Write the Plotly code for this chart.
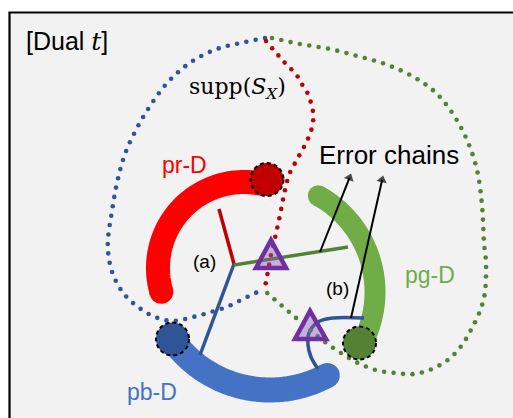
import numpy as np
import plotly.graph_objects as go

W, H = 513, 418

# ---- thick decoder arcs: centre, radius, angular span (degrees, y pointing up)
arc_labels = ["pr-D", "pb-D", "pg-D"]
arc_colors = ["#ff0000", "#4472c4", "#70ad47"]
arc_cx = [244, 270, 265]
arc_cy = [268, 270, 292]
arc_r = [86, 120, 110]
arc_a0 = [75, 215, 61]
arc_a1 = [196, 298.5, -28]
arc_width = [24, 25, 21]
arc_cap = ["end", "end", "start"]

# ---- dotted boundary loops (control points)
blue_loop_x = [265, 245, 217, 191, 169, 152, 137, 125, 117, 112, 108, 109, 114, 124,
               138, 155, 173, 193, 211, 229, 247, 264]
blue_loop_y = [38, 42, 49, 62, 81, 103, 128, 154, 183, 211, 239, 259, 277, 294,
               307, 317, 321, 317, 312, 306, 297, 289]
red_loop_x = [266, 272, 278, 285, 292, 298, 303, 308, 311, 313, 313, 311, 306, 300,
              294, 289, 285, 280, 275, 271, 268, 265]
red_loop_y = [41, 48, 55, 63, 70, 77, 86, 94, 103, 112, 122, 131, 143, 154,
              165, 175, 190, 215, 238, 255, 271, 287]
green_loop_x = [272, 300, 330, 357, 385, 412, 435, 453, 467, 477, 482, 484, 486, 485,
                480, 472, 462, 449, 432, 414, 395, 376, 358, 341, 325, 310, 295, 281, 266]
green_loop_y = [38, 44, 49, 56, 64, 76, 92, 114, 140, 170, 205, 243, 263, 292,
                311, 328, 345, 359, 369, 374, 373, 370, 363, 353, 342, 330, 317, 305, 292]
loop_colors = ["#2f5597", "#c00000", "#548235"]

# ---- thin spokes from the syndrome junction
spoke_colors = ["#c00000", "#2f5597", "#548235"]
spoke_x0 = [234, 234, 234]
spoke_y0 = [264, 264, 265]
spoke_x1 = [219, 200, 348]
spoke_y1 = [209, 355, 247]

# ---- small blue correction path near (b)
hook_x = [364, 333, 318, 309, 308, 311, 318]
hook_y = [318, 318, 322, 333, 345, 357, 369]

# ---- error chain arrows
arrow_tail_x = [320, 351]
arrow_tail_y = [252, 318]
arrow_head_x = [351, 383]
arrow_head_y = [174, 176]
arrow_head_len = 9

# ---- defect triangles
tri_x = [[271, 256, 286], [310, 295, 326]]
tri_y = [[240, 268, 268], [311, 339, 339]]

# ---- boundary nodes
node_x = [267, 172.5, 359.5]
node_y = [179.5, 339, 343]
node_r = 16.5
node_colors = ["#c00000", "#2f5597", "#548235"]

# ---- labels
label_text = ["pr-D", "pb-D", "pg-D", "(a)", "(b)"]
label_x = [184.5, 152, 430, 204, 337]
label_y = [165, 392, 275, 261, 288]
label_colors = ["#ff0000", "#4472c4", "#70ad47", "#000000", "#000000"]
label_size = [23, 23, 23, 19, 19]


def catmull_rom(px, py, steps=24):
    pts = np.column_stack([px, py]).astype(float)
    pts = np.vstack([2 * pts[0] - pts[1], pts, 2 * pts[-1] - pts[-2]])
    t = np.linspace(0, 1, steps, endpoint=False)[:, None]
    out = []
    for i in range(1, len(pts) - 2):
        p0, p1, p2, p3 = pts[i - 1], pts[i], pts[i + 1], pts[i + 2]
        out.append(0.5 * (2 * p1 + (-p0 + p2) * t
                          + (2 * p0 - 5 * p1 + 4 * p2 - p3) * t ** 2
                          + (-p0 + 3 * p1 - 3 * p2 + p3) * t ** 3))
    out.append(pts[-2][None, :])
    return np.vstack(out)


def even_dots(px, py, gap=9.5):
    c = catmull_rom(px, py)
    d = np.r_[0, np.cumsum(np.hypot(*np.diff(c, axis=0).T))]
    s = np.arange(0, d[-1] + 0.01, gap)
    return np.interp(s, d, c[:, 0]), np.interp(s, d, c[:, 1])


fig = go.Figure()

# thick arcs with a rounded free end
for i in range(3):
    a = np.radians(np.linspace(arc_a0[i], arc_a1[i], 120))
    ax = arc_cx[i] + arc_r[i] * np.cos(a)
    ay = arc_cy[i] - arc_r[i] * np.sin(a)
    fig.add_trace(go.Scatter(x=ax, y=ay, mode="lines",
                             line=dict(color=arc_colors[i], width=arc_width[i], simplify=False),
                             hoverinfo="skip"))
    k = -1 if arc_cap[i] == "end" else 0
    fig.add_trace(go.Scatter(x=[ax[k]], y=[ay[k]], mode="markers",
                             marker=dict(color=arc_colors[i], size=arc_width[i], line_width=0),
                             hoverinfo="skip"))

# spokes
for i in range(3):
    fig.add_trace(go.Scatter(x=[spoke_x0[i], spoke_x1[i]], y=[spoke_y0[i], spoke_y1[i]],
                             mode="lines", line=dict(color=spoke_colors[i], width=3.5),
                             hoverinfo="skip"))

# correction hook
fig.add_trace(go.Scatter(x=hook_x, y=hook_y, mode="lines",
                         line=dict(color="#2f5597", width=3.5, shape="spline"),
                         hoverinfo="skip"))

# dotted loops
for lx, ly, col in [(blue_loop_x, blue_loop_y, loop_colors[0]),
                    (red_loop_x, red_loop_y, loop_colors[1]),
                    (green_loop_x, green_loop_y, loop_colors[2])]:
    dx, dy = even_dots(lx, ly)
    fig.add_trace(go.Scatter(x=dx, y=dy, mode="markers",
                             marker=dict(color=col, size=4.6, line_width=0),
                             hoverinfo="skip"))

# error chain arrows: shaft plus a triangular head oriented along the shaft
for i in range(2):
    vx = arrow_head_x[i] - arrow_tail_x[i]
    vy = arrow_head_y[i] - arrow_tail_y[i]
    n = np.hypot(vx, vy)
    ux, uy = vx / n, vy / n
    hx = arrow_head_x[i] - ux * arrow_head_len * 0.45
    hy = arrow_head_y[i] - uy * arrow_head_len * 0.45
    fig.add_trace(go.Scatter(x=[arrow_tail_x[i], hx], y=[arrow_tail_y[i], hy],
                             mode="lines+markers",
                             line=dict(color="#000000", width=2),
                             marker=dict(symbol="triangle-up", size=[0, arrow_head_len],
                                         color="#000000", angleref="previous", line_width=0),
                             hoverinfo="skip"))

shapes = [dict(type="rect", xref="x", yref="y", x0=9.5, y0=12.5, x1=W + 20, y1=H + 20,
               fillcolor="#f2f2f2", line=dict(color="#000000", width=2.2), layer="below")]

for tx, ty in zip(tri_x, tri_y):
    path = "M {} {} L {} {} L {} {} Z".format(tx[0], ty[0], tx[1], ty[1], tx[2], ty[2])
    shapes.append(dict(type="path", xref="x", yref="y", path=path,
                       fillcolor="rgba(137,87,187,0.42)",
                       line=dict(color="#7030a0", width=4.5), layer="above"))

for cx, cy, col in zip(node_x, node_y, node_colors):
    shapes.append(dict(type="circle", xref="x", yref="y",
                       x0=cx - node_r, x1=cx + node_r, y0=cy - node_r, y1=cy + node_r,
                       fillcolor=col, line=dict(color="#000000", width=2, dash="4px,3px"),
                       layer="above"))

ann = []
for t, x, y, c, s in zip(label_text, label_x, label_y, label_colors, label_size):
    ann.append(dict(x=x, y=y, xref="x", yref="y", text=t, showarrow=False,
                    font=dict(family="Liberation Sans", size=s, color=c),
                    xanchor="center", yanchor="middle"))

ann.append(dict(x=24, y=41, xref="x", yref="y", showarrow=False, xanchor="left", yanchor="middle",
                text="[Dual <span style='font-family:DejaVu Serif'><i>t</i></span>]",
                font=dict(family="Liberation Sans", size=25, color="#000000")))
ann.append(dict(x=317, y=155, xref="x", yref="y", showarrow=False, xanchor="left", yanchor="middle",
                text="Error chains",
                font=dict(family="Liberation Sans", size=26, color="#000000")))
ann.append(dict(x=237, y=88, xref="x", yref="y", showarrow=False, xanchor="center", yanchor="middle",
                text="supp(<i>S</i><sub><i>X</i></sub>)",
                font=dict(family="DejaVu Serif", size=22, color="#000000")))

fig.update_layout(
    width=W, height=H, autosize=False,
    margin=dict(l=0, r=0, t=0, b=0, pad=0),
    paper_bgcolor="#ffffff", plot_bgcolor="#ffffff",
    showlegend=False,
    xaxis=dict(range=[0, W], visible=False, fixedrange=True),
    yaxis=dict(range=[H, 0], visible=False, fixedrange=True),
    shapes=shapes, annotations=ann,
)

fig.write_html("out.html")
